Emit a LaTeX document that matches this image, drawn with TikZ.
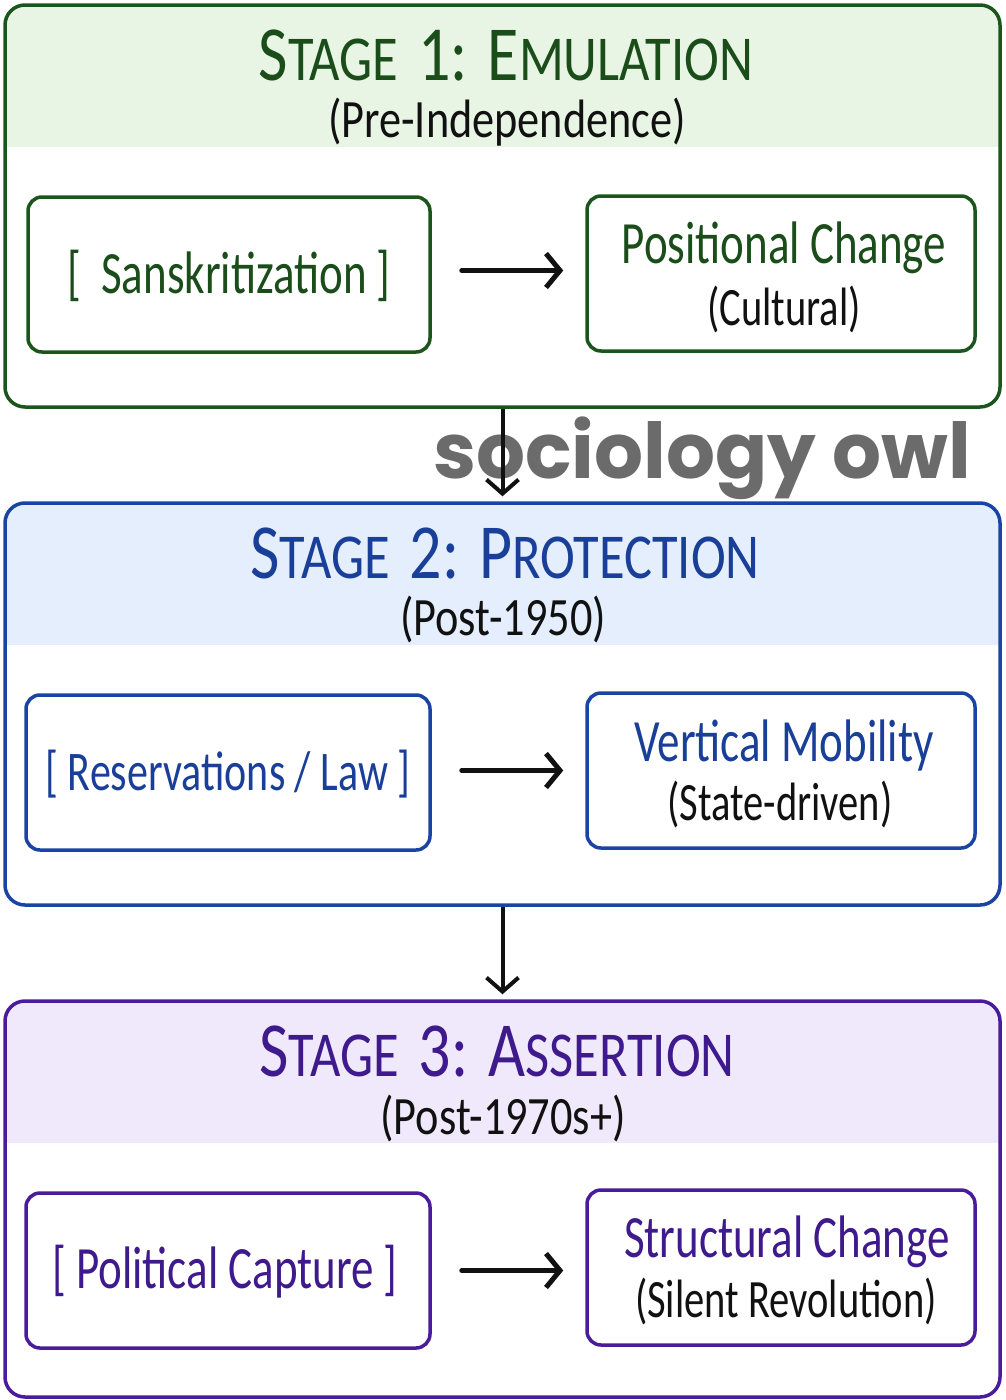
\documentclass[tikz,border=0pt]{standalone}
\usepackage{fontspec}
\setmainfont{Carlito}
\newfontfamily\hand[FakeStretch=0.75]{Carlito}
\newfontfamily\handw[FakeStretch=0.82]{Carlito}
\newfontfamily\wmfont{Poppins}
\usetikzlibrary{arrows.meta}
\definecolor{gA}{HTML}{1C551C}
\definecolor{gT}{HTML}{1B4D1B}
\definecolor{gF}{HTML}{E9F5E4}
\definecolor{bA}{HTML}{1A44A4}
\definecolor{bT}{HTML}{1A3F99}
\definecolor{bF}{HTML}{E4EEFC}
\definecolor{pA}{HTML}{4A1C9C}
\definecolor{pT}{HTML}{3F1A8C}
\definecolor{pF}{HTML}{EFE9FB}
\definecolor{ink}{HTML}{111111}
\definecolor{wmgray}{HTML}{6B6B6B}
\newcommand{\bg}{\fontsize{78}{80}\selectfont}
\newcommand{\sm}{\fontsize{64}{70}\selectfont}
\newcommand{\wsp}{\hspace{20pt}}
\tikzset{
  stagebox/.style={draw=#1, line width=3.5pt, rounded corners=20pt, minimum width=995pt, inner sep=0pt},
  innerbox/.style={draw=#1, line width=3.5pt, rounded corners=14pt, minimum height=155pt, inner sep=0pt},
  titletext/.style={anchor=base, inner sep=0pt, text=#1, font=\handw},
  subtext/.style={anchor=base, inner sep=0pt, text=ink, font=\handw\fontsize{54}{60}\selectfont},
  boxtext/.style={anchor=base, inner sep=0pt, text=#1, font=\hand\fontsize{60}{60}\selectfont},
  boxsub/.style={anchor=base, inner sep=0pt, text=ink, font=\hand\fontsize{54}{60}\selectfont},
  harrow/.style={draw=ink, line width=5pt, line cap=round, shorten <=30pt, shorten >=22pt,
    -{Straight Barb[length=14pt,width=34pt,line width=5pt]}},
  varrow/.style={draw=ink, line width=4pt, shorten >=5pt,
    -{Straight Barb[length=14pt,width=32pt,line width=4pt]}}
}
\begin{document}
\begin{tikzpicture}[x=1pt,y=-1pt]
\useasboundingbox (0,0) rectangle (1006,1400);
\fill[white] (0,0) rectangle (1006,1400);

% ---------- Stage 1 ----------
\begin{scope}
  \clip[rounded corners=20pt] (5,5) rectangle (1000,407);
  \fill[gF] (5,5) rectangle (1000,147);
\end{scope}
\node[stagebox=gA, minimum height=402pt] (s1) at (502.5,206) {};
\node[titletext=gT] (t1) at (506,80) {\bg S\sm TAGE\wsp\bg 1:\wsp E\sm MULATION};
\node[subtext] (u1) at (507,137) {(Pre-Independence)};
\node[innerbox=gA, minimum width=402pt] (a1) at (229,274.5) {};
\node[innerbox=gA, minimum width=388pt] (b1) at (781,273.5) {};
\node[boxtext=gT] (a1t) at (229,293) {[\,\,Sanskritization\,]};
\node[boxtext=gT] (b1t) at (784,263) {Positional Change};
\node[boxsub] (b1s) at (784,325) {(Cultural)};
\draw[harrow] ([yshift=4pt]a1.east) -- ([yshift=4pt]a1.east -| b1.west);

% ---------- Stage 2 ----------
\begin{scope}
  \clip[rounded corners=20pt] (5,503) rectangle (1000,905);
  \fill[bF] (5,503) rectangle (1000,645);
\end{scope}
\node[stagebox=bA, minimum height=402pt] (s2) at (502.5,704) {};
\node[titletext=bT] (t2) at (505,578) {\bg S\sm TAGE\wsp\bg 2:\wsp P\sm ROTECTION};
\node[subtext] (u2) at (503,635) {(Post-1950)};
\node[innerbox=bA, minimum width=404pt] (a2) at (228,772.5) {};
\node[innerbox=bA, minimum width=388pt] (b2) at (781,770.5) {};
\node[boxtext=bT, font=\hand\fontsize{56}{60}\selectfont] (a2t) at (228,790) {[\,Reservations / Law\,]};
\node[boxtext=bT] (b2t) at (784,761) {Vertical Mobility};
\node[boxsub] (b2s) at (780,820) {(State-driven)};
\draw[harrow] ([yshift=2pt]a2.east) -- ([yshift=2pt]a2.east -| b2.west);

% ---------- Stage 3 ----------
\begin{scope}
  \clip[rounded corners=20pt] (5,1001) rectangle (1000,1397);
  \fill[pF] (5,1001) rectangle (1000,1143);
\end{scope}
\node[stagebox=pA, minimum height=396pt] (s3) at (502.5,1199) {};
\node[titletext=pT] (t3) at (497,1076) {\bg S\sm TAGE\wsp\bg 3:\wsp A\sm SSERTION};
\node[subtext] (u3) at (503,1134) {(Post-1970s+)};
\node[innerbox=pA, minimum width=404pt] (a3) at (228,1270.5) {};
\node[innerbox=pA, minimum width=388pt] (b3) at (781,1267.5) {};
\node[boxtext=pT] (a3t) at (225,1288) {[\,Political Capture\,]};
\node[boxtext=pT] (b3t) at (787,1257) {Structural Change};
\node[boxsub] (b3s) at (786,1317) {(Silent Revolution)};
\draw[harrow] (a3.east) -- (a3.east -| b3.west);

% ---------- watermark ----------
\node[anchor=base west, inner sep=0pt, text=wmgray, font=\wmfont\bfseries\fontsize{77}{80}\selectfont] (wm) at (433,478) {sociology owl};

% ---------- stage connectors ----------
\draw[varrow] (s1.south) -- (s2.north);
\draw[varrow] (s2.south) -- (s3.north);
\end{tikzpicture}
\end{document}
